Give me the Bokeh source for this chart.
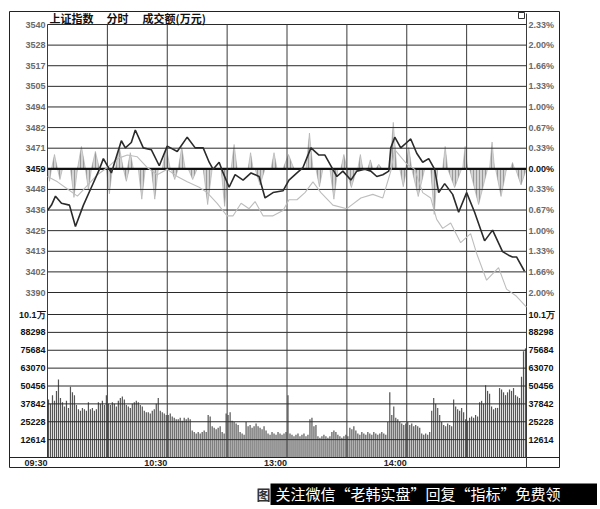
from bokeh.plotting import figure
from bokeh.models import Range1d
from bokeh.core.properties import value
from bokeh.embed import file_html
from bokeh.resources import INLINE

# ---------------- data ----------------
title_parts = ["上证指数", "分时", "成交额(万元)"]
prev_close = 3459.3
price_tick_steps = [7, 6, 5, 4, 3, 2, 1, 0, -1, -2, -3, -4, -5, -6]
price_tick_labels = ["3540", "3528", "3517", "3505", "3494", "3482", "3471",
                     "3459", "3448", "3436", "3425", "3413", "3402", "3390"]
pct_tick_labels = ["2.33%", "2.00%", "1.66%", "1.33%", "1.00%", "0.67%", "0.33%",
                   "0.00%", "0.33%", "0.67%", "1.00%", "1.33%", "1.66%", "2.00%"]
vol_tick_values = [12614, 25228, 37842, 50456, 63070, 75684, 88298, 100912]
vol_tick_labels = ["12614", "25228", "37842", "50456", "63070", "75684", "88298", "10.1万"]
grid_minutes = [0, 30, 60, 90, 120, 150, 180, 210, 240]
time_tick_minutes = [0, 60, 120, 180]
time_tick_labels = ["09:30", "10:30", "13:00", "14:00"]

# index line (minutes after 09:30, trading minutes)
price_min = [0, 2, 4, 7, 11, 14, 18, 22, 26, 28, 32, 37, 39, 42, 44, 48, 52, 56, 60,
             65, 70, 74, 78, 81, 83, 86, 88, 91, 94, 98, 102, 106, 109, 113, 118,
             121, 125, 128, 132, 136, 139, 142, 145, 148, 152, 155, 159, 162, 165,
             168, 171, 172, 174, 177, 180, 182, 185, 188, 191, 194, 196, 199, 203,
             206, 210, 214, 219, 223, 228, 231, 233, 235, 239]
price_val = [3436, 3439, 3444, 3440, 3439, 3427, 3439, 3449, 3459, 3465, 3457, 3475,
             3471, 3474, 3481, 3471, 3470, 3461, 3472, 3469, 3477, 3471, 3471, 3463,
             3459, 3463, 3457, 3449, 3456, 3453, 3457, 3455, 3443, 3446, 3447, 3453,
             3457, 3460, 3471, 3467, 3467, 3461, 3455, 3458, 3453, 3458, 3459, 3458,
             3455, 3456, 3458, 3471, 3477, 3471, 3474, 3476, 3468, 3463, 3465, 3459,
             3446, 3451, 3445, 3435, 3446, 3435, 3419, 3425, 3413, 3411, 3410, 3410,
             3402]

# light gray companion line
lead_min = [0, 5, 10, 15, 20, 25, 30, 35, 40, 45, 50, 55, 60, 65, 70, 76, 80, 85, 90,
            93, 97, 101, 104, 108, 113, 118, 121, 125, 129, 133, 137, 143, 150, 157,
            163, 168, 172, 174, 177, 180, 184, 188, 192, 195, 198, 202, 207, 212, 215,
            220, 226, 230, 235, 240]
lead_val = [3455, 3452, 3448, 3444, 3450, 3456, 3460, 3465, 3467, 3466, 3460, 3456,
            3459, 3455, 3452, 3449, 3446, 3440, 3433, 3433, 3440, 3437, 3441, 3433,
            3433, 3436, 3442, 3442, 3446, 3452, 3446, 3439, 3437, 3443, 3445, 3443,
            3458, 3470, 3466, 3462, 3459, 3446, 3443, 3431, 3426, 3429, 3418, 3423,
            3412, 3397, 3404, 3392, 3388, 3382]

# buy/sell strength spikes around the previous close (start min, end min, peak pts)
flow_start = [0, 2, 5, 11.5, 15, 19, 22, 29.5, 34, 38, 40, 45.5, 52, 57.5, 62, 65.5,
              70.5, 78, 87, 92, 100.5, 104, 112, 118, 129.5, 134.5, 141.5, 147, 149.5,
              155.5, 160.5, 164.5, 171.5, 176.5, 179.5, 182.5, 192, 198, 200.5, 208,
              211.5, 221.5, 224.5, 232, 234.5]
flow_end = [2, 5, 7.5, 15, 19, 22, 26, 32.5, 38, 41, 43, 49, 55.5, 61.5, 65.5, 69,
            75, 82.5, 90.5, 95, 103, 109, 115, 123.5, 133, 138, 145.5, 150, 155,
            158, 163, 167.5, 175, 180, 182.5, 189, 195.5, 200.5, 207.5, 210.5,
            220.5, 224, 230, 234, 240]
flow_peak = [-7, 8, -6, -16, 12.5, -12, 9.7, -14, 12, -7, 9, -17, -17, 12, -6, 12,
             -6, -20, -21, 13.6, 9, -9, 9, 8, 20, -10, -17, 8, -10.5, 8, 5, 2.5, 26,
             -10, 12, -15.5, -25.5, 12.5, -10.5, 12.5, -20, 15, -15.5, 3.5, -9]

# per-minute turnover, thousands
volume_k = [
    41, 38, 44, 40, 47, 55, 42, 39, 36, 40,
    35, 50, 46, 44, 37, 34, 33, 35, 34, 33,
    39, 34, 35, 33, 34, 39, 38, 40, 37, 44,
    38, 37, 39, 38, 36, 40, 42, 43, 41, 37,
    36, 35, 38, 39, 40, 39, 37, 36, 33, 32,
    32, 31, 33, 34, 38, 42, 33, 32, 31, 30,
    30, 31, 29, 28, 27, 27, 28, 26, 28, 27,
    28, 27, 19, 18, 17, 18, 17, 18, 19, 18,
    30, 29, 22, 21, 20, 21, 22, 18, 17, 31,
    30, 32, 26, 25, 24, 23, 18, 17, 16, 25,
    22, 23, 21, 22, 24, 22, 21, 20, 22, 19,
    17, 16, 18, 17, 16, 18, 17, 16, 17, 18,
    44, 17, 16, 15, 16, 17, 15, 16, 17, 15,
    16, 27, 28, 22, 23, 15, 14, 15, 16, 15,
    14, 15, 18, 19, 18, 16, 15, 14, 15, 16,
    15, 21, 20, 22, 19, 17, 16, 18, 17, 16,
    18, 17, 16, 18, 17, 16, 17, 18, 17, 16,
    25, 46, 30, 36, 28, 27, 25, 24, 23, 24,
    25, 23, 24, 22, 23, 22, 21, 17, 16, 17,
    16, 18, 33, 42, 38, 35, 30, 25, 23, 22,
    24, 23, 22, 41, 36, 34, 33, 35, 32, 27,
    26, 28, 29, 28, 30, 29, 39, 40, 38, 51,
    47, 45, 36, 34, 35, 35, 49, 48, 46, 44,
    46, 48, 47, 49, 44, 43, 42, 57, 75, 77,
]

banner_text = "关注微信“老韩实盘”回复“指标”免费领"
caption_text = "图"

# ---------------- layout constants (page pixels) ----------------
ORIGIN = 1                      # where the canvas lands in the screenshot
W, H = 597, 505
FRAME_L, FRAME_R, FRAME_T, FRAME_B = 10, 560, 12, 468
PLOT_L, PLOT_R, GRID_TOP, GRID_LOW, VOL_ZERO, VOL_TOP_Y = 48, 527, 25, 293, 458, 315
PXM = (PLOT_R - PLOT_L) / 240.0
step = prev_close / 300.0
PPP = (GRID_LOW - GRID_TOP) / (13 * step)
top_price = prev_close + 7 * step
VPP = (VOL_ZERO - VOL_TOP_Y) / vol_tick_values[-1]


def mx(px):
    return (px - PLOT_L) / PXM


def py(ypx):
    return top_price - (ypx - GRID_TOP) / PPP


def vy(ypx):
    return (VOL_ZERO - ypx) / VPP


p = figure(width=W, height=H, output_backend="svg", toolbar_location=None,
           x_axis_type=None, y_axis_type=None,
           x_range=Range1d(mx(ORIGIN), mx(ORIGIN + W)),
           y_range=Range1d(py(ORIGIN + H), py(ORIGIN)),
           min_border_left=0, min_border_right=0, min_border_top=0, min_border_bottom=0)
p.extra_y_ranges = {"vol": Range1d(vy(ORIGIN + H), vy(ORIGIN))}
p.outline_line_color = None
p.background_fill_color = "white"
p.border_fill_color = "white"

price_ticks = [prev_close + s * step for s in price_tick_steps]

# outer frame
p.quad(left=[mx(FRAME_L)], right=[mx(FRAME_R)], top=[py(FRAME_T)], bottom=[py(FRAME_B)],
       fill_color=None, line_color="#222222", line_width=1)

# volume bars
vol = [v * 1000 for v in volume_k]
p.vbar(x=[i + 0.5 for i in range(len(vol))], top=vol, bottom=0, width=0.6,
       y_range_name="vol", fill_color="#555555", line_color=None)

# flow spikes
xs = [[s, (s + e) / 2.0, e] for s, e in zip(flow_start, flow_end)]
ys = [[prev_close, prev_close + pk, prev_close] for pk in flow_peak]
p.patches(xs, ys, fill_color="#cfcfcf", fill_alpha=0.9, line_color="#a8a8a8", line_width=0.6,
          hatch_pattern="vertical_line", hatch_color="#8a8a8a", hatch_scale=3, hatch_weight=0.8)

# horizontal grid (price)
p.segment(x0=[0] * len(price_ticks), x1=[240] * len(price_ticks), y0=price_ticks, y1=price_ticks,
          line_color="#2a2a2a", line_width=1)
p.segment(x0=[0], x1=[240], y0=[prev_close], y1=[prev_close], line_color="#111111", line_width=2.2)
# horizontal grid (volume)
p.segment(x0=[0] * len(vol_tick_values), x1=[240] * len(vol_tick_values),
          y0=vol_tick_values, y1=vol_tick_values, y_range_name="vol",
          line_color="#2a2a2a", line_width=1)
p.segment(x0=[mx(FRAME_L)], x1=[mx(FRAME_R)], y0=[0], y1=[0], y_range_name="vol",
          line_color="#222222", line_width=1)
# vertical grid
p.segment(x0=grid_minutes, x1=grid_minutes, y0=[0] * len(grid_minutes),
          y1=[vy(GRID_TOP)] * len(grid_minutes), y_range_name="vol",
          line_color="#3a3a3a", line_width=1)
p.segment(x0=[240], x1=[240], y0=[vy(FRAME_B)], y1=[vy(14)], y_range_name="vol",
          line_color="#3a3a3a", line_width=1)
# small corner box
p.quad(left=[mx(519)], right=[mx(525)], top=[py(13)], bottom=[py(19)],
       fill_color="white", line_color="#333333", line_width=1)

# lines
p.line(lead_min, lead_val, line_color="#bdbdbd", line_width=1.1)
p.line(price_min, price_val, line_color="#2b2b2b", line_width=1.6)

# ---------------- texts ----------------
num_font = value("Liberation Sans")
left_colors = ["#111111" if s == 0 else "#6a6a6a" for s in price_tick_steps]
p.text(x=[mx(46)] * len(price_ticks), y=price_ticks, text=price_tick_labels,
       text_font=num_font, text_font_size="9px", text_font_style="bold",
       text_align="right", text_baseline="middle", text_color=left_colors)
p.text(x=[mx(529)] * len(price_ticks), y=price_ticks, text=pct_tick_labels,
       text_font=num_font, text_font_size="9px", text_font_style="bold",
       text_align="left", text_baseline="middle", text_color=left_colors)
p.text(x=[mx(46)] * len(vol_tick_values), y=vol_tick_values, text=vol_tick_labels,
       y_range_name="vol", text_font=num_font, text_font_size="9px", text_font_style="bold",
       text_align="right", text_baseline="middle", text_color="#111111")
p.text(x=[mx(529)] * len(vol_tick_values), y=vol_tick_values, text=vol_tick_labels,
       y_range_name="vol", text_font=num_font, text_font_size="9px", text_font_style="bold",
       text_align="left", text_baseline="middle", text_color="#111111")
p.text(x=time_tick_minutes, y=[vy(463.5)] * len(time_tick_minutes), text=time_tick_labels,
       y_range_name="vol", text_font=num_font, text_font_size="9px", text_font_style="bold",
       text_align="right", text_baseline="middle", text_color="#222222")
p.text(x=[mx(50), mx(107), mx(143)], y=[py(18.5)] * 3, text=title_parts,
       text_font=value("Noto Sans CJK SC"), text_font_size="11px", text_font_style="bold",
       text_align="left", text_baseline="middle", text_color="#111111")

# caption + watermark banner under the chart
p.quad(left=[mx(271)], right=[mx(ORIGIN + W + 2)], top=[vy(484)], bottom=[vy(ORIGIN + H + 2)],
       y_range_name="vol", fill_color="black", line_color=None)
p.text(x=[mx(257)], y=[vy(494)], text=[caption_text], y_range_name="vol",
       text_font=value("Noto Sans CJK SC"), text_font_size="14px", text_font_style="bold",
       text_color="#333333", text_baseline="middle", text_align="left")
p.text(x=[mx(276)], y=[vy(494)], text=[banner_text], y_range_name="vol",
       text_font=value("Noto Sans CJK SC"), text_font_size="15px",
       text_color="white", text_baseline="middle", text_align="left")

open("out.html", "w").write(file_html(p, INLINE))
